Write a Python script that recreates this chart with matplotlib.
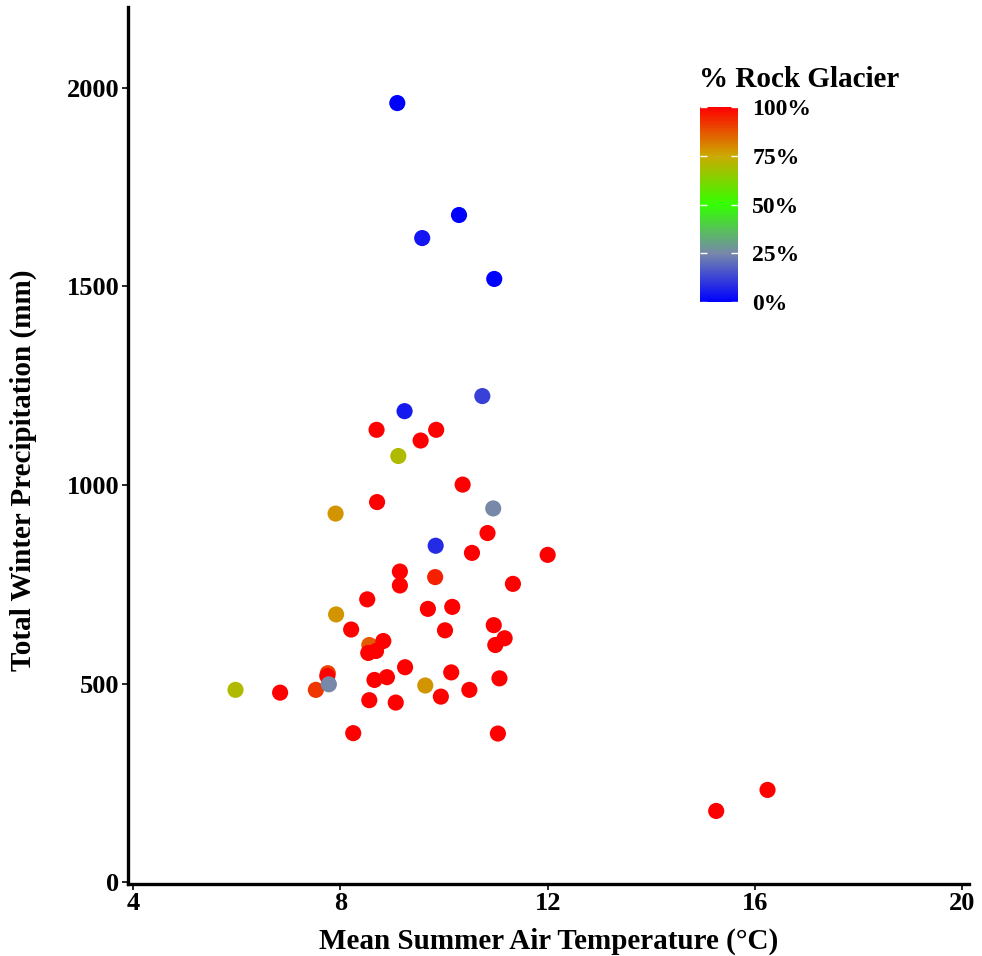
import matplotlib
matplotlib.use("Agg")
import matplotlib.pyplot as plt
from matplotlib.colors import LinearSegmentedColormap, Normalize
import numpy as np

# Data: mean summer air temperature (°C), total winter precipitation (mm), % rock glacier
temp = [9.10, 10.29, 9.58, 10.97, 10.74, 9.24, 9.84,
        9.12, 5.98,
        7.91, 7.92, 9.64,
        8.56, 9.83, 7.76, 7.53,
        8.70, 9.85, 9.55, 10.36, 8.71, 10.84, 10.54, 12.00, 9.15, 9.15,
        11.33, 8.52, 9.69, 10.16, 8.21, 10.02, 10.96, 11.17, 10.99, 8.83,
        8.54, 8.69, 9.25, 10.14, 11.07, 8.90, 8.66, 7.75, 6.84, 10.49,
        9.94, 8.56, 9.07, 8.25, 11.04, 16.24, 15.25,
        10.95, 7.78]
precip = [1962, 1680, 1622, 1519, 1224, 1186, 847,
          1073, 484,
          928, 674, 495,
          597, 768, 526, 484,
          1139, 1139, 1112, 1001, 957, 879, 829, 824, 782, 747,
          751, 712, 688, 693, 636, 634, 647, 614, 597, 607,
          577, 582, 541, 528, 513, 516, 509, 519, 477, 484,
          467, 458, 452, 375, 374, 232, 179,
          941, 498]
pct_rock = [0, 0, 4, 0, 12, 5, 8,
            70, 70,
            78, 78, 78,
            86, 95, 90, 92,
            100, 100, 100, 100, 100, 100, 100, 100, 100, 100,
            100, 100, 100, 100, 100, 100, 100, 100, 100, 100,
            100, 100, 100, 100, 100, 100, 100, 100, 100, 100,
            100, 100, 100, 100, 100, 100, 100,
            25, 25]

x_ticks = [4, 8, 12, 16, 20]
y_ticks = [0, 500, 1000, 1500, 2000]
cbar_ticks = [0, 25, 50, 75, 100]
cbar_labels = ["0%", "25%", "50%", "75%", "100%"]

plt.rcParams['font.family'] = ['Liberation Serif', 'DejaVu Serif']
plt.rcParams['font.weight'] = 'bold'

cmap = LinearSegmentedColormap.from_list(
    "rock", [(0.0, "#0000ff"), (0.25, "#7788aa"), (0.5, "#33ff00"),
             (0.75, "#ccaa00"), (1.0, "#ff0000")])
norm = Normalize(0, 100)

fig = plt.figure(figsize=(9.82, 9.56), dpi=100)
ax = fig.add_axes([0.130, 0.0753, 0.857, 0.9174])
ax.scatter(temp, precip, c=pct_rock, cmap=cmap, norm=norm, s=135,
           linewidths=0, zorder=3)
ax.set_xlim(3.90, 20.13)
ax.set_ylim(-5, 2204)
ax.set_xticks(x_ticks)
ax.set_yticks(y_ticks)
for s in ['top', 'right']:
    ax.spines[s].set_visible(False)
for s in ['left', 'bottom']:
    ax.spines[s].set_linewidth(2.4)
    ax.spines[s].set_color('black')
ax.tick_params(axis='both', length=4, width=1.2, labelsize=19, pad=2)
for lab in ax.get_xticklabels() + ax.get_yticklabels():
    lab.set_fontweight('bold')
ax.set_xlabel("Mean Summer Air Temperature (°C)", fontsize=21, fontweight='bold', labelpad=9)
ax.set_ylabel("Total Winter Precipitation (mm)", fontsize=21, fontweight='bold')
ax.yaxis.set_label_coords(-0.108, 0.472)

# Colorbar
cax = fig.add_axes([0.713, 0.684, 0.039, 0.204])
sm = matplotlib.cm.ScalarMappable(norm=norm, cmap=cmap)
cb = fig.colorbar(sm, cax=cax, ticks=cbar_ticks)
cb.outline.set_visible(False)
cb.ax.set_yticklabels(cbar_labels)
cax.tick_params(axis='y', which='both', direction='in', color='white', length=5,
                width=1, left=True, right=True, labelleft=False, labelright=True,
                labelsize=17, pad=10)
for lab in cax.get_yticklabels():
    lab.set_fontweight('bold')
fig.text(0.712, 0.917, "% Rock Glacier", fontsize=21, fontweight='bold',
         ha='left', va='center')

fig.savefig("out.png", dpi=100)
